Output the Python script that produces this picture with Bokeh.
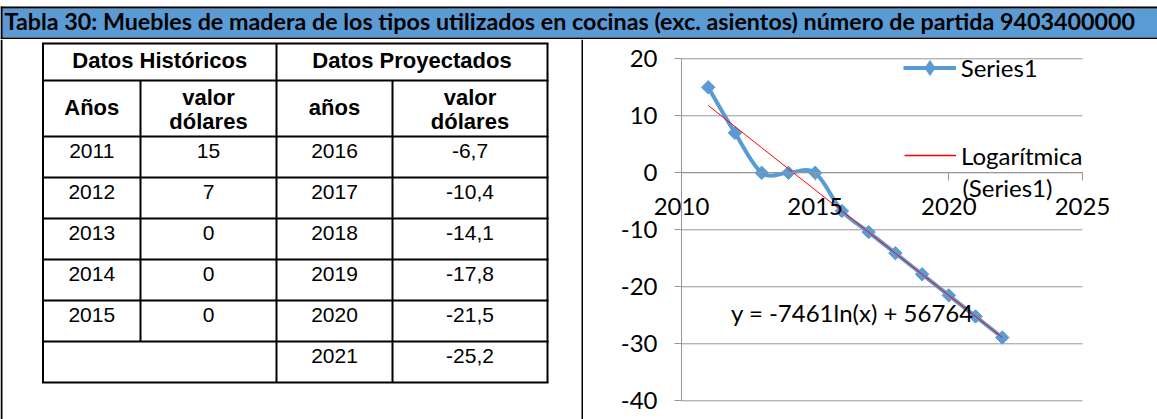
import numpy as np
from bokeh.plotting import figure
from bokeh.layouts import column, row
from bokeh.models import Range1d, FixedTicker, Legend, LegendItem, Label
from bokeh.core.properties import value
from bokeh.embed import file_html
from bokeh.resources import INLINE

# ---------------- data ----------------
title_text = ("Tabla 30: Muebles de madera de los tipos utilizados en cocinas "
              "(exc. asientos) número de partida  9403400000")
group_headers = ["Datos Históricos", "Datos Proyectados"]
column_headers = ["Años", "valor dólares", "años", "valor dólares"]
hist_years = ["2011", "2012", "2013", "2014", "2015"]
hist_values = ["15", "7", "0", "0", "0"]
proj_years = ["2016", "2017", "2018", "2019", "2020", "2021"]
proj_values = ["-6,7", "-10,4", "-14,1", "-17,8", "-21,5", "-25,2"]

chart_years = [2011, 2012, 2013, 2014, 2015, 2016, 2017, 2018, 2019, 2020, 2021, 2022]
chart_values = [15, 7, 0, 0, 0, -6.7, -10.4, -14.1, -17.8, -21.5, -25.2, -28.9]
x_ticks = [2010, 2015, 2020, 2025]
y_ticks = [20, 10, 0, -10, -20, -30, -40]
series_name = "Series1"
trend_name = ["Logarítmica", "(Series1)"]
equation_text = "y = -7461ln(x) + 56764"

BLUE = "#5B9BD5"
GRAY = "#969696"
CHART_FONT = "24px"

W, H = 1157, 419
TITLE_H = 39
BODY_H = H - TITLE_H
SPLIT = 583


def bare(fig):
    fig.grid.visible = False
    fig.outline_line_color = None
    return fig


# ---------------- title bar ----------------
tp = bare(figure(width=W, height=TITLE_H, x_range=Range1d(0, W), y_range=Range1d(TITLE_H, 0),
                 output_backend="svg", toolbar_location=None, min_border=0, title=None,
                 x_axis_location=None, y_axis_location=None))
tp.quad(left=[0], right=[W], top=[8], bottom=[37], fill_color=BLUE, line_color=None)
tp.segment(x0=[0, 0, 1], y0=[7, 38, 6], x1=[W, W, 1], y1=[7, 38, TITLE_H],
           line_color="black", line_width=2)
tp.text(x=[4], y=[20.5], text=[title_text], text_font=value("Lato"),
        text_font_style="bold", text_font_size="23.3px", text_baseline="middle",
        text_align="left", text_color="black")

# ---------------- table ----------------
tb = bare(figure(width=SPLIT, height=BODY_H, x_range=Range1d(0, SPLIT), y_range=Range1d(H, TITLE_H),
                 output_backend="svg", toolbar_location=None, min_border=0, title=None,
                 x_axis_location=None, y_axis_location=None))

col_edges = [42.5, 140, 276, 392, 547]
row_edges = [43, 80, 136, 177, 218, 259, 300, 341, 382]

hx0 = [col_edges[0] - 1] * len(row_edges)
hx1 = [col_edges[-1] + 1] * len(row_edges)
tb.segment(x0=hx0, y0=row_edges, x1=hx1, y1=row_edges, line_color="black", line_width=2)
vx = [col_edges[0], col_edges[2], col_edges[4], col_edges[1], col_edges[3]]
vy0 = [row_edges[0], row_edges[0], row_edges[0], row_edges[1], row_edges[1]]
vy1 = [row_edges[-1], row_edges[-1], row_edges[-1], row_edges[-2], row_edges[-1]]
tb.segment(x0=vx, y0=vy0, x1=vx, y1=vy1, line_color="black", line_width=2)
tb.segment(x0=[1, 582], y0=[TITLE_H, TITLE_H], x1=[1, 582], y1=[H, H],
           line_color="black", line_width=2)

col_centers = [(col_edges[i] + col_edges[i + 1]) / 2 for i in range(4)]
hx, hy, ht = [], [], []
for g, (a, b) in zip(group_headers, [(0, 2), (2, 4)]):
    hx.append((col_edges[a] + col_edges[b]) / 2)
    hy.append(row_edges[0] + 16.5)
    ht.append(g)
for c, h in zip(col_centers, column_headers):
    parts = h.split(" ")
    if len(parts) == 1:
        hx.append(c); hy.append(row_edges[1] + 27); ht.append(h)
    else:
        for k, part in enumerate(parts):
            hx.append(c); hy.append(row_edges[1] + 16.5 + 24.5 * k); ht.append(part)
tb.text(x=hx, y=hy, text=ht, text_font=value("Liberation Sans"), text_font_style="bold",
        text_font_size="22px", text_align="center", text_baseline="middle",
        text_color="black")

dx, dy, dt = [], [], []
for i, (yr, v) in enumerate(zip(hist_years, hist_values)):
    mid = row_edges[2 + i] + 14.5
    dx += [col_centers[0], col_centers[1]]; dy += [mid, mid]; dt += [yr, v]
for i, (yr, v) in enumerate(zip(proj_years, proj_values)):
    mid = row_edges[2 + i] + 14.5
    dx += [col_centers[2], col_centers[3]]; dy += [mid, mid]; dt += [yr, v]
tb.text(x=dx, y=dy, text=dt, text_font=value("Liberation Sans"), text_font_size="21px",
        text_align="center", text_baseline="middle", text_color="black")

# ---------------- chart ----------------
CW = W - SPLIT
PX_X = 26.733          # pixels per year
PX_Y = 5.7             # pixels per unit
AXIS_X = 681 - SPLIT   # y axis position inside chart figure
TOP20 = 58.3 - TITLE_H  # position of the "20" gridline inside chart figure
x0 = x_ticks[0] - AXIS_X / PX_X
x1 = x0 + CW / PX_X
y1 = y_ticks[0] + TOP20 / PX_Y
y0 = y1 - BODY_H / PX_Y

cp = figure(width=CW, height=BODY_H, x_range=Range1d(x0, x1), y_range=Range1d(y0, y1),
            output_backend="svg", toolbar_location=None, title=None, min_border=0)
bare(cp)

# gridlines restricted to the plot area
cp.segment(x0=[x_ticks[0]] * len(y_ticks), y0=y_ticks, x1=[x_ticks[-1]] * len(y_ticks), y1=y_ticks,
           line_color=GRAY, line_width=1)

cp.xaxis.ticker = FixedTicker(ticks=x_ticks)
cp.yaxis.ticker = FixedTicker(ticks=y_ticks)
cp.yaxis.major_label_overrides = {t: str(t) for t in y_ticks}
cp.xaxis.major_label_overrides = {t: str(t) for t in x_ticks}
for ax in (cp.xaxis[0], cp.yaxis[0]):
    ax.axis_line_color = GRAY
    ax.major_tick_line_color = GRAY
    ax.minor_tick_line_color = None
    ax.major_tick_in = 0
    ax.major_label_text_font = "Lato"
    ax.major_label_text_font_size = CHART_FONT
    ax.major_label_text_color = "black"
cp.yaxis.major_tick_out = 7
cp.yaxis.major_label_standoff = 17
cp.yaxis.fixed_location = x_ticks[0]
cp.yaxis.bounds = (min(y_ticks), max(y_ticks))
cp.xaxis.major_tick_out = 8
cp.xaxis.major_label_standoff = 17
cp.xaxis.fixed_location = 0
cp.xaxis.bounds = (min(x_ticks), max(x_ticks))

xs = np.asarray(chart_years, dtype=float)
ys = np.asarray(chart_values, dtype=float)
n = len(xs)
px = np.concatenate([[xs[0]], xs, [xs[-1]]])
py = np.concatenate([[ys[0]], ys, [ys[-1]]])
cx0 = px[1:n] + (px[2:n + 1] - px[0:n - 1]) / 6.0
cy0 = py[1:n] + (py[2:n + 1] - py[0:n - 1]) / 6.0
cx1 = px[2:n + 1] - (px[3:n + 2] - px[1:n]) / 6.0
cy1 = py[2:n + 1] - (py[3:n + 2] - py[1:n]) / 6.0

curve = cp.bezier(x0=xs[:-1], y0=ys[:-1], x1=xs[1:], y1=ys[1:],
                  cx0=cx0, cy0=cy0, cx1=cx1, cy1=cy1, line_color=BLUE, line_width=4)
marks = cp.scatter(xs, ys, marker="square", angle=np.pi / 4, size=9.5,
                   fill_color=BLUE, line_color=BLUE)
coef = np.polyfit(np.log(xs), ys, 1)
trend = cp.line(xs, coef[0] * np.log(xs) + coef[1], line_color="#FF0000", line_width=1)

# legend-only glyphs (a NaN point is never drawn in the plot area)
nan1 = np.array([np.nan])
legend_mark = cp.scatter(x=nan1, y=nan1, marker="diamond", size=15,
                         fill_color=BLUE, line_color=BLUE)
legend_trend = cp.line(x=nan1, y=nan1, line_color="#FF0000", line_width=1.5)


def style_legend(lg, gw, gh):
    lg.glyph_width = gw
    lg.glyph_height = gh
    lg.label_standoff = 5
    lg.label_text_font = "Lato"
    lg.label_text_font_size = CHART_FONT
    lg.label_text_color = "black"
    lg.padding = 0
    lg.margin = 0
    lg.spacing = 0
    lg.border_line_color = None
    lg.background_fill_alpha = 0


leg1 = Legend(items=[LegendItem(label=series_name, renderers=[curve, legend_mark])],
              location=(902.7 - SPLIT, H - 85.8))
style_legend(leg1, 53, 37)
leg2 = Legend(items=[LegendItem(label=trend_name[0], renderers=[legend_trend])],
              location=(904 - SPLIT, H - 170))
style_legend(leg2, 52, 30)
cp.add_layout(leg1)
cp.add_layout(leg2)

cp.add_layout(Label(x=2020.51, y=-2.6, text=trend_name[1], text_font="Lato",
                    text_font_size=CHART_FONT, text_baseline="middle", text_color="black"))
cp.add_layout(Label(x=2011.85, y=-24.5, text=equation_text, text_font="Lato",
                    text_font_size=CHART_FONT, text_baseline="middle", text_color="black"))

layout = column(tp, row(tb, cp))
open("out.html", "w").write(file_html(layout, INLINE))
